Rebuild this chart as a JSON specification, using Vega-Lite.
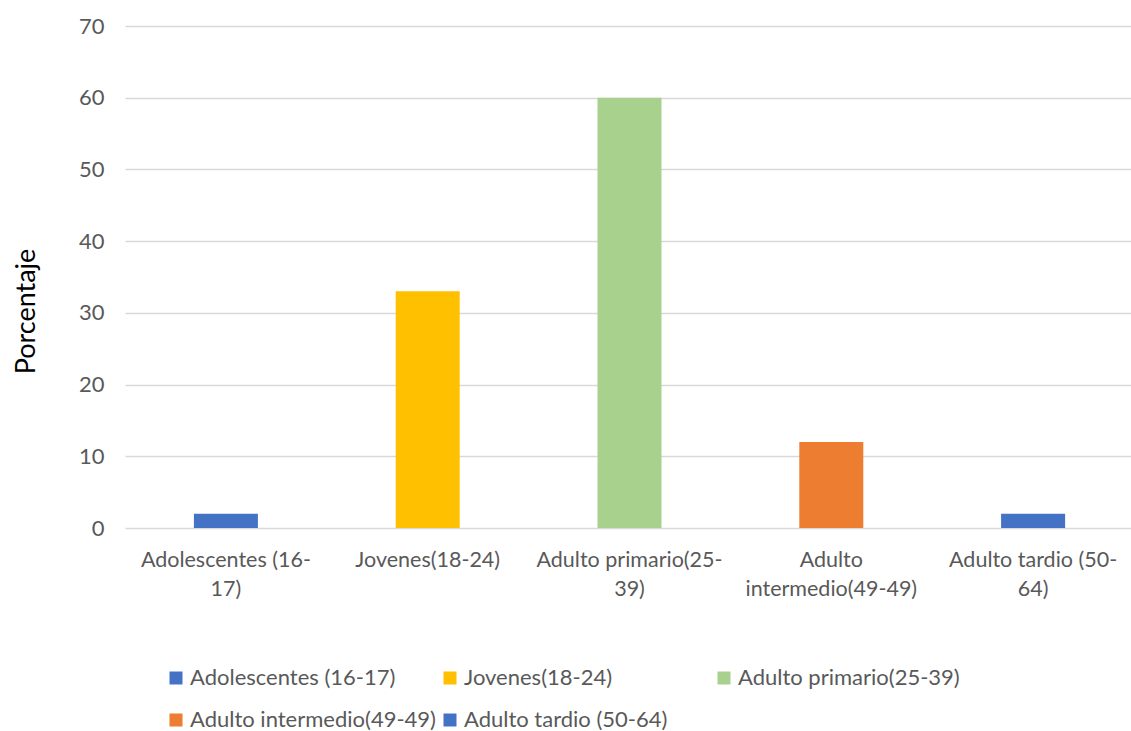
{
  "$schema": "https://vega.github.io/schema/vega-lite/v6.json",
  "width": 1009,
  "height": 502,
  "autosize": {"type": "none"},
  "padding": {"left": 125, "top": 26, "right": 0, "bottom": 203},
  "background": "white",
  "config": {
    "font": "Lato",
    "view": {"stroke": null}
  },
  "data": {
    "values": [
      {"grupo": "Adolescentes (16-17)", "porcentaje": 2},
      {"grupo": "Jovenes(18-24)", "porcentaje": 33},
      {"grupo": "Adulto primario(25-39)", "porcentaje": 60},
      {"grupo": "Adulto intermedio(49-49)", "porcentaje": 12},
      {"grupo": "Adulto tardio (50-64)", "porcentaje": 2}
    ]
  },
  "mark": {"type": "bar", "width": 64},
  "encoding": {
    "x": {
      "field": "grupo",
      "type": "nominal",
      "sort": null,
      "scale": {"paddingInner": 0, "paddingOuter": 0},
      "axis": {
        "title": null,
        "labelAngle": 0,
        "labelFontSize": 21.5,
        "labelColor": "#595959",
        "labelPadding": 21,
        "labelLineHeight": 29,
        "labelBaseline": "top",
        "labelLimit": 400,
        "domain": false,
        "ticks": false,
        "labelExpr": "datum.value == 'Adolescentes (16-17)' ? ['Adolescentes (16-', '17)'] : datum.value == 'Adulto primario(25-39)' ? ['Adulto primario(25-', '39)'] : datum.value == 'Adulto intermedio(49-49)' ? ['Adulto', 'intermedio(49-49)'] : datum.value == 'Adulto tardio (50-64)' ? ['Adulto tardio (50-', '64)'] : datum.value"
      }
    },
    "y": {
      "field": "porcentaje",
      "type": "quantitative",
      "scale": {"domain": [0, 70]},
      "axis": {
        "title": "Porcentaje",
        "titleFontSize": 27,
        "titleFontWeight": "normal",
        "titleColor": "black",
        "titleAngle": -90,
        "titleX": -99,
        "titleY": 285,
        "titleAlign": "center",
        "titleBaseline": "middle",
        "values": [0, 10, 20, 30, 40, 50, 60, 70],
        "labelFontSize": 22,
        "labelColor": "#595959",
        "labelPadding": 21,
        "domain": false,
        "ticks": false,
        "grid": true,
        "gridColor": "#d9d9d9",
        "gridWidth": 1.5
      }
    },
    "color": {
      "field": "grupo",
      "type": "nominal",
      "sort": null,
      "scale": {
        "domain": ["Adolescentes (16-17)", "Jovenes(18-24)", "Adulto primario(25-39)", "Adulto intermedio(49-49)", "Adulto tardio (50-64)"],
        "range": ["#4472C4", "#FFC000", "#A9D18E", "#ED7D31", "#4472C4"]
      },
      "legend": {
        "title": null,
        "orient": "none",
        "legendX": 40,
        "legendY": 641,
        "direction": "horizontal",
        "columns": 3,
        "gridAlign": "all",
        "columnPadding": 3,
        "rowPadding": 20,
        "symbolType": "square",
        "symbolSize": 169,
        "symbolStrokeWidth": 0,
        "symbolOpacity": 1,
        "labelOffset": 3,
        "labelFontSize": 22,
        "labelColor": "#595959",
        "labelLimit": 400
      }
    }
  }
}
